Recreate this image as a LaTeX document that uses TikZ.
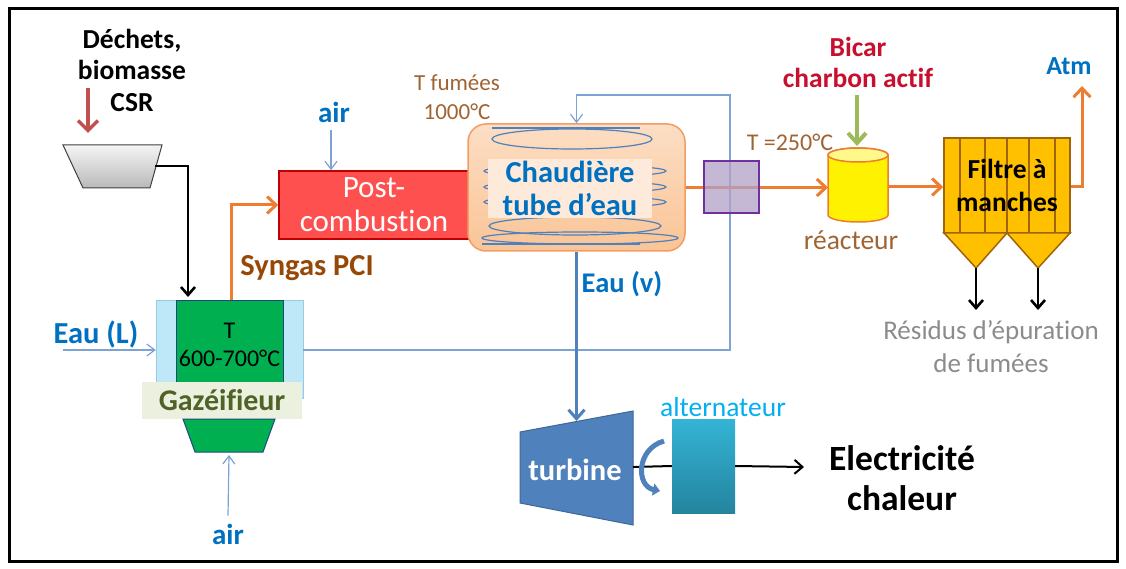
\documentclass[tikz,border=0pt]{standalone}
\usepackage{fontspec}
\setmainfont[RawFeature=-liga, RawFeature=-clig, RawFeature=-calt, RawFeature=-dlig]{Carlito}
\usetikzlibrary{arrows.meta, positioning}
\definecolor{txtblue}{RGB}{0,112,192}
\definecolor{lineblue}{RGB}{79,129,189}
\definecolor{paleblue}{RGB}{125,162,214}
\definecolor{orgline}{RGB}{237,125,49}
\definecolor{txtbrown}{RGB}{151,72,6}
\definecolor{lightbrown}{RGB}{160,100,50}
\definecolor{redarrow}{RGB}{192,80,77}
\definecolor{greenarrow}{RGB}{155,187,89}
\definecolor{txtred}{RGB}{200,16,46}
\definecolor{gazblue}{RGB}{190,232,248}
\definecolor{gazedge}{RGB}{150,205,225}
\definecolor{gazgreen}{RGB}{0,176,80}
\definecolor{navyedge}{RGB}{31,73,125}
\definecolor{gazlabel}{RGB}{235,241,222}
\definecolor{olive}{RGB}{79,98,40}
\definecolor{pcred}{RGB}{255,80,80}
\definecolor{pcedge}{RGB}{192,0,0}
\definecolor{boilA}{RGB}{252,222,196}
\definecolor{boilB}{RGB}{250,196,150}
\definecolor{boillbl}{RGB}{253,234,218}
\definecolor{purplefill}{RGB}{178,161,199}
\definecolor{purpleedge}{RGB}{112,48,160}
\definecolor{filtfill}{RGB}{255,192,0}
\definecolor{filtedge}{RGB}{160,100,10}
\definecolor{altA}{RGB}{52,180,214}
\definecolor{altB}{RGB}{36,132,158}
\definecolor{alttxt}{RGB}{0,176,240}
\definecolor{residue}{RGB}{140,140,140}

\begin{document}
\begin{tikzpicture}[x=1pt, y=-1pt,
  lbl/.style={align=center, inner sep=0pt},
  bluelbl/.style={lbl, text=txtblue, font=\bfseries\fontsize{29}{33}\selectfont},
  brownlbl/.style={lbl, text=lightbrown, font=\fontsize{23}{29}\selectfont},
  thinar/.style={draw=paleblue, line width=1.2pt, -{Straight Barb[length=8pt,width=12pt]}},
  orar/.style={draw=orgline, line width=3pt, -{Straight Barb[length=9pt,width=17pt]}},
  blkar/.style={draw=black, line width=2.6pt, -{Straight Barb[length=8pt,width=14pt]}},
  coil/.style={draw=lineblue, line width=1.2pt},
  filtline/.style={draw=filtedge, line width=1.2pt}]
\useasboundingbox (0,0) rectangle (1126,569);
\fill[white] (0,0) rectangle (1126,569);
% feed and hopper
\node[lbl, font=\bfseries\fontsize{27.5}{31.5}\selectfont] (dechets) at (132,70) {Déchets,\\biomasse\\CSR};
\coordinate (csrtop) at (88,88);
\coordinate (csrbot) at (88,133);
\draw[draw=redarrow, line width=3.5pt, -{Straight Barb[length=10pt,width=20pt]}] (csrtop) -- (csrbot);
\draw[draw=gray!50!black, line width=1pt, top color=gray!8, bottom color=gray!55] (63,145) -- (162,145) -- (150,188) -- (83,188) -- cycle;
\coordinate (tremie) at (155,166);
\coordinate (gazin) at (188,297);
% gasifier
\node[draw=gazedge, fill=gazblue, minimum width=147pt, minimum height=98pt, inner sep=0pt] (gazext) at (229.5,349) {};
\node[draw=navyedge, line width=1pt, fill=gazgreen, minimum width=107pt, minimum height=90pt, inner sep=0pt,
      align=center, font=\fontsize{24}{28}\selectfont] (gaz) at (229.5,345) {T\\600-700°C};
\node[fill=gazlabel, minimum width=160pt, minimum height=37pt, inner sep=0pt, text=olive,
      font=\bfseries\fontsize{30}{34}\selectfont] (gazlbl) at (222,400) {Gazéifieur};
\draw[draw=navyedge, line width=1pt, fill=gazgreen] (183,419) -- (275,419) -- (263,452) -- (195,452) -- cycle;
\coordinate (gazbas) at (229,455);
\draw[blkar] (tremie) -| (gazin);
\node[bluelbl] (airg) at (228,534) {air};
\draw[thinar] (airg.north) ++(0,-8) coordinate (airgpt) -- (gazbas);
\node[bluelbl, font=\bfseries\fontsize{30.5}{34}\selectfont] (eauL) at (96,334) {Eau (L)};
\coordinate (eauLin) at (63,350);
\draw[thinar] (eauLin) -- (eauLin -| gazext.west);
% post-combustion
\node[draw=pcedge, line width=1.5pt, fill=pcred, minimum width=190pt, minimum height=68pt, inner sep=0pt,
      align=center, text=white, font=\fontsize{31}{34}\selectfont] (postc) at (374,205) {Post-\\combustion};
\draw[orar] (gaz.north -| 231,0) |- (postc.west);
\node[lbl, text=txtbrown, font=\bfseries\fontsize{30.5}{34}\selectfont] (syngas) at (307,268) {Syngas PCI};
\node[bluelbl] (airpc) at (334,112) {air};
\coordinate (airpcpt) at (331,130);
\draw[thinar] (airpcpt) -- (airpcpt |- postc.north);
\node[brownlbl] (tfumees) at (457,97) {T fumées\\1000°C};
% boiler
\node[draw=orgline!75, line width=1.5pt, rounded corners=18pt, top color=boilA, bottom color=boilB,
      minimum width=217pt, minimum height=127pt, inner sep=0pt] (chaud) at (576.5,187.5) {};
\draw[coil] (492,128) -- (640,128);
\draw[coil] (572,139) ellipse[x radius=80pt, y radius=10pt];
\foreach \yy in {171,187,202}
  \draw[coil] (575,\yy) ellipse[x radius=91pt, y radius=6pt];
\draw[coil] (575,226) ellipse[x radius=86pt, y radius=9pt];
\draw[coil] (580,238) ellipse[x radius=98pt, y radius=6pt];
\draw[coil] (482,244) -- (640,244);
\node[fill=boillbl, minimum width=164pt, minimum height=59pt, inner sep=0pt, align=center, text=txtblue,
      font=\bfseries\fontsize{30.5}{33}\selectfont] (chaudlbl) at (570,188.5) {Chaudière\\tube d’eau};
% water loop
\coordinate (boucle) at (730,95);
\draw[thinar] (gazext.east |- eauLin) -| (boucle) -| (chaud.north);
% flue gas line
\coordinate (reac) at (858,187);
\draw[orar] (chaud.east) -- (828,187.5);
\node[draw=purpleedge, line width=1.5pt, fill=purplefill, fill opacity=0.75, minimum width=55pt,
      minimum height=52pt, inner sep=0pt] (echang) at (731.5,187) {};
\node[brownlbl, font=\fontsize{24}{28}\selectfont] (t250) at (790,142) {T =250°C};
% reactor
\filldraw[draw=orgline, line width=1.5pt, fill=yellow] (828,155) -- (828,215)
  arc[start angle=180, end angle=360, x radius=30pt, y radius=7pt] -- (888,155)
  arc[start angle=0, end angle=180, x radius=30pt, y radius=7pt] -- cycle;
\filldraw[draw=orgline, line width=1.5pt, fill=yellow!45] (858,155) ellipse[x radius=30pt, y radius=7pt];
\node[brownlbl, font=\fontsize{27.5}{31}\selectfont] (reaclbl) at (851,240) {réacteur};
\node[lbl, text=txtred, font=\bfseries\fontsize{27.5}{31}\selectfont] (bicar) at (858,62) {Bicar\\charbon actif};
\coordinate (bicarpt) at (857,95);
\draw[draw=greenarrow, line width=4pt, -{Straight Barb[length=10pt,width=18pt]}] (bicarpt) -- (857,146);
% bag filter
\node[draw=filtedge, line width=1.5pt, fill=filtfill, minimum width=126pt, minimum height=95pt, inner sep=0pt] (filtre) at (1007,185.5) {};
\foreach \xx in {960,985,1007,1029,1055}
  \draw[filtline] (\xx,138) -- (\xx,233);
\node[lbl, font=\bfseries\fontsize{27.5}{33}\selectfont] (filtretxt) at (filtre.center) {Filtre à\\manches};
\draw[draw=filtedge, line width=1.5pt, fill=filtfill] (944,233) -- (1007,233) -- (976,268) coordinate (tri1) -- cycle;
\draw[draw=filtedge, line width=1.5pt, fill=filtfill] (1007,233) -- (1070,233) -- (1038,268) coordinate (tri2) -- cycle;
\draw[orar] (888,187) -- (filtre.west |- 0,187);
\draw[blkar] (tri1) -- (976,310);
\draw[blkar] (tri2) -- (1038,310);
\node[lbl, text=residue, font=\fontsize{27}{33}\selectfont] (residus) at (991,347) {Résidus d’épuration\\de fumées};
\node[bluelbl, font=\bfseries\fontsize{26}{30}\selectfont] (atm) at (1069,66) {Atm};
\coordinate (atmpt) at (1082,86);
\draw[orar] (filtre.east |- 0,187) -| (atmpt);
% steam to turbine
\coordinate (turbtop) at (576.5,421);
\draw[draw=lineblue, line width=3pt, -{Straight Barb[length=9pt,width=16pt]}] (chaud.south) -- (turbtop);
\node[bluelbl, font=\bfseries\fontsize{28.5}{32}\selectfont] (eauv) at (622,284) {Eau (v)};
\draw[draw=lineblue!80!black, line width=1pt, fill=lineblue] (520,432) -- (633,411) -- (633,525) -- (520,503) -- cycle;
\node[lbl, text=white, font=\bfseries\fontsize{30.5}{34}\selectfont] (turbine) at (575,470) {turbine};
\coordinate (turbE) at (633,467);
\node[top color=altA, bottom color=altB, minimum width=63pt, minimum height=94pt, inner sep=0pt] (alt) at (703.5,466) {};
\node[lbl, text=alttxt, font=\fontsize{27.5}{31}\selectfont] (altlbl) at (723,407) {alternateur};
\draw[line width=2pt] (turbE) -- (alt.west);
\draw[draw=lineblue, line width=5pt, -{Triangle[length=7pt,width=12pt]}] (664,441) .. controls (636,449) and (636,486) .. (660,491);
\node[lbl, font=\bfseries\fontsize{35.5}{40}\selectfont] (elec) at (902,478) {Electricité\\chaleur};
\coordinate (elecpt) at (804,467);
\draw[line width=2pt, -{Straight Barb[length=8pt,width=14pt]}] (alt.east) -- (elecpt);
% frame
\draw[line width=3pt] (9,9) rectangle (1117,561);
\end{tikzpicture}
\end{document}
